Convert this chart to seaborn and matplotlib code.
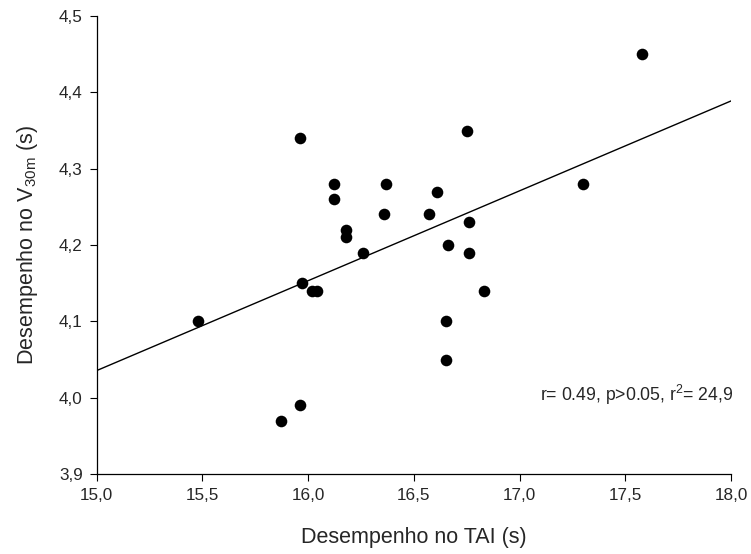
import matplotlib
matplotlib.use("Agg")
import matplotlib.pyplot as plt
import seaborn as sns
import pandas as pd

# dados
tai = [15.96, 16.12, 16.12, 16.18, 16.18, 16.26, 17.58, 16.75, 16.37, 16.61,
       16.36, 16.57, 16.76, 16.66, 16.76, 17.30, 15.97, 16.02, 16.04, 15.48,
       15.96, 15.87, 16.83, 16.65, 16.65]
v30 = [4.34, 4.28, 4.26, 4.22, 4.21, 4.19, 4.45, 4.35, 4.28, 4.27,
       4.24, 4.24, 4.23, 4.20, 4.19, 4.28, 4.15, 4.14, 4.14, 4.10,
       3.99, 3.97, 4.14, 4.10, 4.05]

xticks = [15.0, 15.5, 16.0, 16.5, 17.0, 17.5, 18.0]
xticklabels = ["15,0", "15,5", "16,0", "16,5", "17,0", "17,5", "18,0"]
yticks = [3.9, 4.0, 4.1, 4.2, 4.3, 4.4, 4.5]
yticklabels = ["3,9", "4,0", "4,1", "4,2", "4,3", "4,4", "4,5"]

df = pd.DataFrame({"TAI": tai, "V30": v30})

sns.set_theme(style="ticks")
plt.rcParams["font.family"] = ["Liberation Sans", "DejaVu Sans"]
plt.rcParams["mathtext.default"] = "regular"

fig = plt.figure(figsize=(7.51, 5.54), dpi=100)
ax = fig.add_axes([0.1288, 0.1444, 0.8446, 0.8267])
ax.set_xlim(15.0, 18.0)
ax.set_ylim(3.9, 4.5)

sns.regplot(data=df, x="TAI", y="V30", ax=ax, ci=None, truncate=False,
            scatter_kws={"s": 70, "color": "black", "linewidths": 0, "alpha": 1},
            line_kws={"color": "black", "linewidth": 1.0})

ax.set_xlim(15.0, 18.0)
ax.set_ylim(3.9, 4.5)
ax.set_xticks(xticks)
ax.set_xticklabels(xticklabels, fontsize=12.3)
ax.set_yticks(yticks)
ax.set_yticklabels(yticklabels, fontsize=12.3)
ax.tick_params(direction="out", length=5, width=0.8, color="black", pad=5)
for s in ["left", "bottom"]:
    ax.spines[s].set_color("black")
    ax.spines[s].set_linewidth(0.9)
sns.despine(ax=ax)

ax.set_xlabel("Desempenho no TAI (s)", fontsize=15.5, labelpad=17)
ax.set_ylabel("Desempenho no V$_{30m}$ (s)", fontsize=15.5, labelpad=14)

ax.text(18.01, 4.004, "r= 0.49, p>0.05, r$^2$= 24,9", ha="right", va="center",
        fontsize=12.7)

fig.savefig("out.png", dpi=100)
